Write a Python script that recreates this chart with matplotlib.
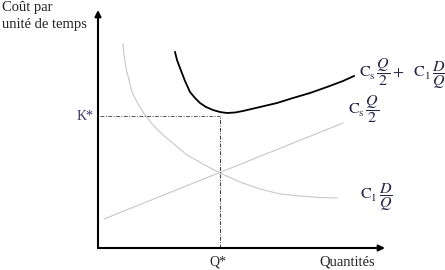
import matplotlib
matplotlib.use("Agg")
import matplotlib.pyplot as plt

plt.rcParams['mathtext.fontset'] = 'stix'
plt.rcParams['font.family'] = ['Liberation Serif', 'DejaVu Serif']

# ---- data (units: px from origin) ----
lin_q = [6, 245]
lin_c = [29, 125]

hyp_q = [25, 26, 28, 31, 34, 40, 47, 55, 65, 77, 89, 105, 122, 142, 162, 182, 202, 222, 239]
hyp_c = [204, 193, 180, 168, 156, 144, 133, 123, 113, 103, 93, 84, 75, 66, 59, 54, 52, 50.5, 50]

tot_q = [77, 79, 82, 87, 92, 97, 102, 108, 115, 122, 129, 137, 145, 162, 179, 195, 212, 229, 245, 256]
tot_c = [196, 188, 180, 167, 156, 150, 145, 141, 138, 136, 135, 135.5, 137, 141, 145, 150, 155, 161, 167, 172]

q_star = 122
k_star = 132

label_total = r'$\mathrm{C_s}\,\dfrac{Q}{2}+\ \ \mathrm{C_1}\,\dfrac{D}{Q}$'
label_lin = r'$\mathrm{C_s}\,\dfrac{Q}{2}$'
label_hyp = r'$\mathrm{C_1}\,\dfrac{D}{Q}$'

fig = plt.figure(figsize=(4.45, 2.70), dpi=100)
ax = fig.add_axes([0, 0, 1, 1])
ax.set_xlim(-98, 347)
ax.set_ylim(-22, 248)
ax.axis('off')

# axes with arrows
ax.annotate('', xy=(0, 238), xytext=(0, 0),
            arrowprops=dict(arrowstyle='-|>', color='black', lw=1.5,
                            mutation_scale=9, shrinkA=0, shrinkB=0))
ax.annotate('', xy=(287, 0), xytext=(0, 0),
            arrowprops=dict(arrowstyle='-|>', color='black', lw=1.5,
                            mutation_scale=9, shrinkA=0, shrinkB=0))

# curves
ax.plot(lin_q, lin_c, color='#c4c4c4', lw=0.75)
ax.plot(hyp_q, hyp_c, color='#c4c4c4', lw=0.75, solid_joinstyle='round')
ax.plot(tot_q, tot_c, color='black', lw=1.3, solid_joinstyle='round')

# optimum guides
ax.plot([2, q_star], [k_star, k_star], color='#555555', lw=0.7, ls=(0, (4, 1.5, 1, 1.5)))
ax.plot([q_star, q_star], [0, k_star], color='#333333', lw=0.7, ls=(0, (4, 1.5, 1, 1.5)))

# texts
ax.text(-96, 247, 'Coût par', fontsize=10.5, va='top', ha='left', color='#222222')
ax.text(-96, 230, 'unité de temps', fontsize=10.5, va='top', ha='left', color='#222222')
ax.text(-4, k_star, 'K*', fontsize=10, va='center', ha='right', color='#333366')
ax.text(q_star - 2, -14, 'Q*', fontsize=10, va='center', ha='center', color='#222222')
ax.text(249, -14, 'Quantités', fontsize=10.5, va='center', ha='center', color='#222222')
ax.text(261, 174, label_total, fontsize=11.5, va='center', ha='left', color='#222244')
ax.text(250, 139, label_lin, fontsize=11.5, va='center', ha='left', color='#222244')
ax.text(262, 51, label_hyp, fontsize=11.5, va='center', ha='left', color='#222244')

fig.savefig('out.png', dpi=100)
